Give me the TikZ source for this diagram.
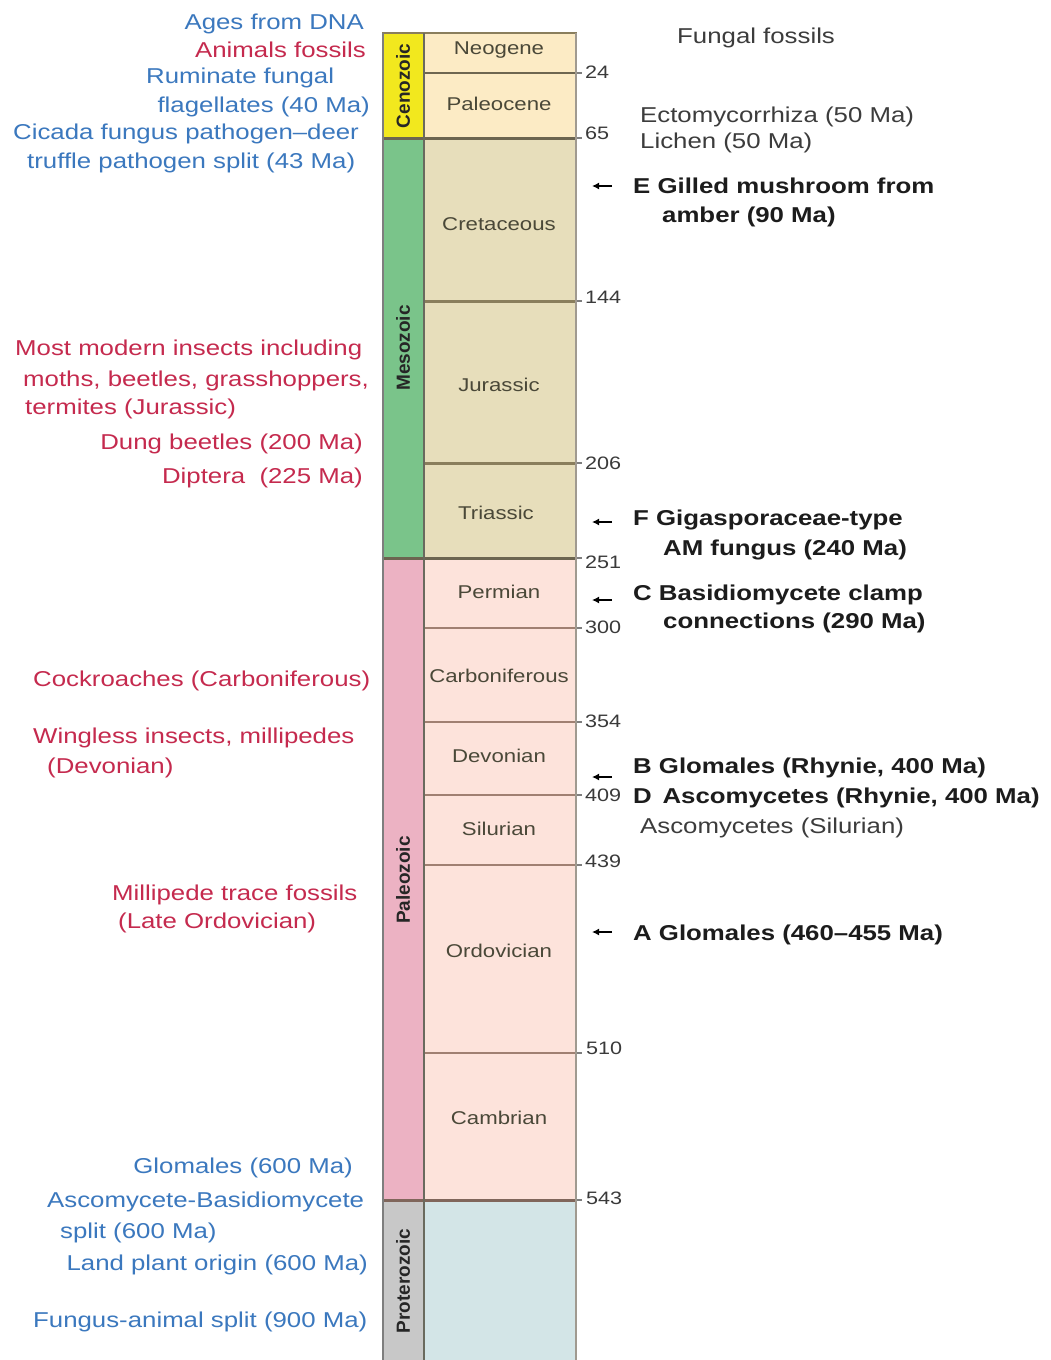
\documentclass[tikz,border=0pt]{standalone}
\usepackage{fontspec}
\setmainfont{Liberation Sans}[FakeStretch=1.2]
\newfontfamily\erafont{Liberation Sans}
\usetikzlibrary{arrows.meta}
\definecolor{dnablue}{HTML}{3B78BE}
\definecolor{animred}{HTML}{C52A4E}
\definecolor{fosgray}{HTML}{3C3C3C}
\definecolor{fosdark}{HTML}{1C1C1C}
\definecolor{pertext}{HTML}{4A4838}
\definecolor{numtext}{HTML}{3A3A3A}
\definecolor{eratext}{HTML}{262626}
\definecolor{cenofill}{HTML}{F2E81E}
\definecolor{mesofill}{HTML}{7AC48A}
\definecolor{paleofill}{HTML}{ECB2C3}
\definecolor{protofill}{HTML}{C8C8C8}
\definecolor{cenoper}{HTML}{FCEBC5}
\definecolor{mesoper}{HTML}{E7DEBB}
\definecolor{paleoper}{HTML}{FDE3DB}
\definecolor{protoper}{HTML}{D3E5E7}
\definecolor{cenoline}{HTML}{6E6650}
\definecolor{mesoline}{HTML}{8A7E5C}
\definecolor{paleoline}{HTML}{A08072}
\definecolor{eraline}{HTML}{6C6550}
\definecolor{borderl}{HTML}{7E7E7E}
\definecolor{borderm}{HTML}{6A6A5E}
\definecolor{borderr}{HTML}{A09A90}
\begin{document}
\begin{tikzpicture}[x=1pt,y=-1pt,
  txt/.style={inner sep=0pt,font=\fontsize{21.5}{26}\selectfont},
  blu/.style={txt,text=dnablue},
  rd/.style={txt,text=animred},
  fos/.style={txt,text=fosgray},
  bfos/.style={txt,text=fosdark,font=\fontsize{21.5}{26}\selectfont\bfseries},
  per/.style={inner sep=0pt,text=pertext,font=\fontsize{18.5}{22}\selectfont},
  num/.style={inner sep=0pt,text=numtext,font=\fontsize{18}{22}\selectfont,anchor=west},
  eralbl/.style={inner sep=0pt,rotate=90,text=eratext,font=\erafont\bfseries\fontsize{19}{22}\selectfont},
  arr/.style={-{Latex[length=7pt,width=7pt]},line width=1.4pt,black},
  cenob/.style={line width=2pt,draw=cenoline},
  mesob/.style={line width=3pt,draw=mesoline},
  paleob/.style={line width=2pt,draw=paleoline},
  erab/.style={line width=3pt,draw=eraline},
  tick/.style={line width=1.5pt,draw=borderl},
]
\fill[white] (0,0) rectangle (1050,1360);
\useasboundingbox (0,0) rectangle (1050,1360);

% era column
\fill[cenofill] (383,33) rectangle (424,138);
\fill[mesofill] (383,138) rectangle (424,558);
\fill[paleofill] (383,558) rectangle (424,1200);
\fill[protofill] (383,1200) rectangle (424,1362);
% period column
\fill[cenoper] (424,33) rectangle (576,138);
\fill[mesoper] (424,138) rectangle (576,558);
\fill[paleoper] (424,558) rectangle (576,1200);
\fill[protoper] (424,1200) rectangle (576,1362);

% period boundaries
\draw[cenob] (424,73) -- (576,73);
\draw[mesob] (424,301) -- (576,301);
\draw[mesob] (424,463) -- (576,463);
\foreach \yy in {628,722,795,865,1053} \draw[paleob] (424,\yy) -- (576,\yy);
% era boundaries
\draw[erab] (383,138) -- (576,138);
\draw[erab] (383,558) -- (576,558);
\draw[erab,draw=paleoline!80!black] (383,1200) -- (576,1200);
% borders
\draw[line width=2pt,draw=mesoline] (382,33) -- (577,33);
\draw[line width=2pt,draw=borderl] (383,33) -- (383,1362);
\draw[line width=2pt,draw=borderm] (424,33) -- (424,1362);
\draw[line width=2.5pt,draw=borderr] (576,33) -- (576,1362);
% ticks
\foreach \yy in {73,138,301,463,558,628,722,795,865,1053,1200} \draw[tick] (577,\yy) -- (582,\yy);

% era labels
\node[eralbl] (ceno) at (403,86) {Cenozoic};
\node[eralbl] (meso) at (403,348) {Mesozoic};
\node[eralbl] (paleo) at (403,880) {Paleozoic};
\node[eralbl] (proto) at (403,1281) {Proterozoic};

% period labels
\node[per] (neo) at (499,50) {Neogene};
\node[per] (pal) at (499,104) {Paleocene};
\node[per] (cre) at (499,224) {Cretaceous};
\node[per] (jur) at (499,385) {Jurassic};
\node[per] (tri) at (496,513) {Triassic};
\node[per] (per) at (499,592) {Permian};
\node[per] (car) at (499,676) {Carboniferous};
\node[per] (dev) at (499,756) {Devonian};
\node[per] (sil) at (499,829) {Silurian};
\node[per] (ord) at (499,951) {Ordovician};
\node[per] (cam) at (499,1118) {Cambrian};

% numbers
\node[num] (n24) at (585,72) {24};
\node[num] (n65) at (585,133) {65};
\node[num] (n144) at (585,297) {144};
\node[num] (n206) at (585,463) {206};
\node[num] (n251) at (585,562) {251};
\node[num] (n300) at (585,627) {300};
\node[num] (n354) at (585,721) {354};
\node[num] (n409) at (585,795) {409};
\node[num] (n439) at (585,861) {439};
\node[num] (n510) at (586,1048) {510};
\node[num] (n543) at (586,1198) {543};

% left texts
\node[blu,anchor=base east] (dna) at (364,29) {Ages from DNA};
\node[rd,anchor=base east] (anim) at (366,57) {Animals fossils};
\node[blu,anchor=base west] (rum1) at (146,83) {Ruminate fungal};
\node[blu,anchor=base east] (rum2) at (370,112) {flagellates (40 Ma)};
\node[blu,anchor=base west] (cic1) at (13,139) {Cicada fungus pathogen–deer};
\node[blu,anchor=base west] (cic2) at (27,168) {truffle pathogen split (43 Ma)};
\node[rd,anchor=base west] (ins1) at (15,355) {Most modern insects including};
\node[rd,anchor=base west] (ins2) at (23,386) {moths, beetles, grasshoppers,};
\node[rd,anchor=base west] (ins3) at (25,414) {termites (Jurassic)};
\node[rd,anchor=base east] (dung) at (363,449) {Dung beetles (200 Ma)};
\node[rd,anchor=base east] (dipt) at (363,483) {Diptera\ \ (225 Ma)};
\node[rd,anchor=base west] (cock) at (33,686) {Cockroaches (Carboniferous)};
\node[rd,anchor=base west] (wing1) at (33,743) {Wingless insects, millipedes};
\node[rd,anchor=base west] (wing2) at (47,773) {(Devonian)};
\node[rd,anchor=base west] (mill1) at (112,900) {Millipede trace fossils};
\node[rd,anchor=base west] (mill2) at (118,928) {(Late Ordovician)};
\node[blu,anchor=base east] (glo6) at (353,1173) {Glomales (600 Ma)};
\node[blu,anchor=base west] (asb1) at (47,1207) {Ascomycete-Basidiomycete};
\node[blu,anchor=base west] (asb2) at (60,1238) {split (600 Ma)};
\node[blu,anchor=base east] (land) at (368,1270) {Land plant origin (600 Ma)};
\node[blu,anchor=base west] (fung) at (33,1327) {Fungus-animal split (900 Ma)};

% right texts
\node[fos,anchor=base west] (ff) at (677,43) {Fungal fossils};
\node[fos,anchor=base west] (ecto) at (640,122) {Ectomycorrhiza (50 Ma)};
\node[fos,anchor=base west] (lich) at (640,148) {Lichen (50 Ma)};
\node[bfos,anchor=base west] (e1) at (633,193) {E Gilled mushroom from};
\node[bfos,anchor=base west] (e2) at (662,222) {amber (90 Ma)};
\node[bfos,anchor=base west] (f1) at (633,525) {F Gigasporaceae-type};
\node[bfos,anchor=base west] (f2) at (663,555) {AM fungus (240 Ma)};
\node[bfos,anchor=base west] (c1) at (633,600) {C Basidiomycete clamp};
\node[bfos,anchor=base west] (c2) at (663,628) {connections (290 Ma)};
\node[bfos,anchor=base west] (b1) at (633,773) {B Glomales (Rhynie, 400 Ma)};
\node[bfos,anchor=base west] (d1) at (633,803) {D\hspace{0.5em}Ascomycetes (Rhynie, 400 Ma)};
\node[fos,anchor=base west] (silu) at (640,833) {Ascomycetes (Silurian)};
\node[bfos,anchor=base west] (a1) at (633,940) {A Glomales (460–455 Ma)};

% arrows
\coordinate (eT) at (612,186); \coordinate (eH) at (592,186);
\coordinate (fT) at (612,522); \coordinate (fH) at (592,522);
\coordinate (cT) at (612,600); \coordinate (cH) at (592,600);
\coordinate (bT) at (612,777); \coordinate (bH) at (592,777);
\coordinate (aT) at (612,932); \coordinate (aH) at (592,932);
\draw[arr] (eT) -- (eH);
\draw[arr] (fT) -- (fH);
\draw[arr] (cT) -- (cH);
\draw[arr] (bT) -- (bH);
\draw[arr] (aT) -- (aH);
\end{tikzpicture}
\end{document}
